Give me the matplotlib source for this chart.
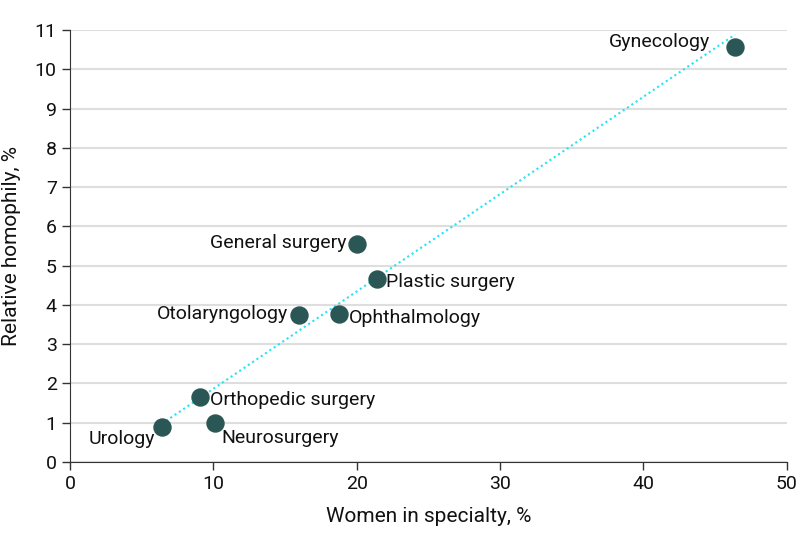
import numpy as np
import matplotlib
matplotlib.use("Agg")
import matplotlib.pyplot as plt

plt.rcParams['font.family'] = ['Roboto', 'DejaVu Sans']

# Data
specialties = ["Urology", "Orthopedic surgery", "Neurosurgery", "Otolaryngology",
               "Ophthalmology", "General surgery", "Plastic surgery", "Gynecology"]
women_pct = [6.4, 9.1, 10.1, 16.0, 18.8, 20.0, 21.4, 46.4]
homophily = [0.89, 1.65, 0.99, 3.74, 3.77, 5.55, 4.66, 10.56]

# label placement (offset in points, ha, va)
label_pos = {
    "Urology": ((-5, -2), 'right', 'top'),
    "Orthopedic surgery": ((7, -2), 'left', 'center'),
    "Neurosurgery": ((5, -4), 'left', 'top'),
    "Otolaryngology": ((-8, 1), 'right', 'center'),
    "Ophthalmology": ((7, -3), 'left', 'center'),
    "General surgery": ((-7, 1), 'right', 'center'),
    "Plastic surgery": ((7, -2), 'left', 'center'),
    "Gynecology": ((-18, 4), 'right', 'center'),
}

fig = plt.figure(figsize=(7.98, 5.48), dpi=100)
ax = fig.add_axes([0.0877, 0.157, 0.898, 0.788])

# least squares trend line
slope, intercept = np.polyfit(women_pct, homophily, 1)
xs = np.array([min(women_pct), max(women_pct)])
ax.plot(xs, slope * xs + intercept, color='#22e4f4', linestyle=(0, (1, 1.5)),
        linewidth=1.5, zorder=2)

ax.scatter(women_pct, homophily, s=150, color='#2a5755', zorder=3)

for name, x, y in zip(specialties, women_pct, homophily):
    off, ha, va = label_pos[name]
    ax.annotate(name, (x, y), xytext=off, textcoords='offset points',
                ha=ha, va=va, fontsize=14, color='#111111')

ax.set_xlim(0, 50)
ax.set_ylim(0, 11)
ax.set_xticks(range(0, 51, 10))
ax.set_yticks(range(0, 12))
ax.tick_params(labelsize=14, length=6, width=1, color='#333333', labelcolor='#111111')
ax.yaxis.grid(True, color='#dedede', linewidth=1.5)
ax.set_axisbelow(True)
for s in ['top', 'right']:
    ax.spines[s].set_visible(False)
for s in ['left', 'bottom']:
    ax.spines[s].set_color('#333333')

ax.set_xlabel("Women in specialty, %", fontsize=15, labelpad=10, color='#111111')
ax.set_ylabel("Relative homophily, %", fontsize=15, labelpad=10, color='#111111')

fig.savefig("out.png", dpi=100)
